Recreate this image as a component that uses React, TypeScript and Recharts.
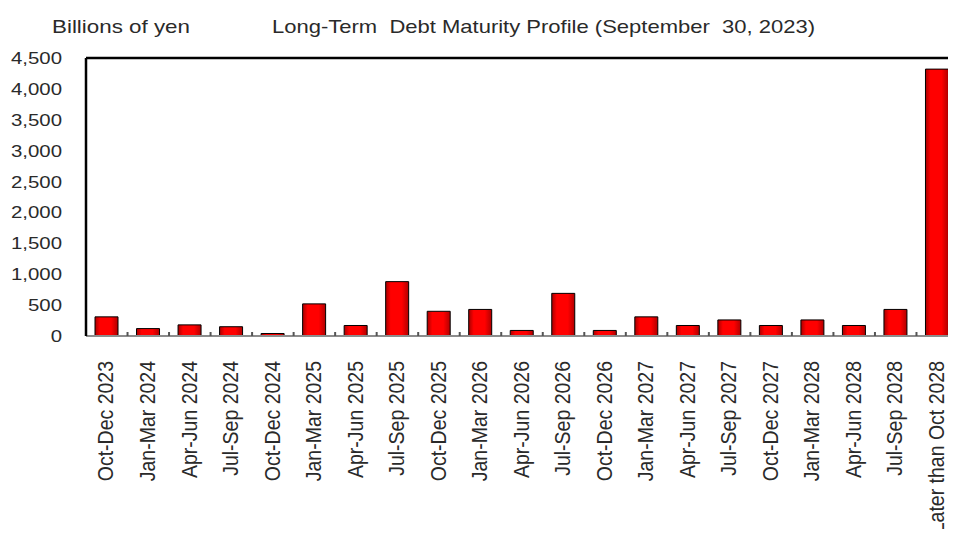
import React from "react";
import { BarChart, Bar, XAxis, YAxis, ReferenceLine } from "recharts";

const categories = [
  "Oct-Dec 2023", "Jan-Mar 2024", "Apr-Jun 2024", "Jul-Sep 2024", "Oct-Dec 2024",
  "Jan-Mar 2025", "Apr-Jun 2025", "Jul-Sep 2025", "Oct-Dec 2025", "Jan-Mar 2026",
  "Apr-Jun 2026", "Jul-Sep 2026", "Oct-Dec 2026", "Jan-Mar 2027", "Apr-Jun 2027",
  "Jul-Sep 2027", "Oct-Dec 2027", "Jan-Mar 2028", "Apr-Jun 2028", "Jul-Sep 2028",
  "Later than Oct 2028",
];
const maturities = [
  310, 120, 180, 150, 40, 520, 170, 880, 400, 430, 90, 690, 90, 310, 170, 260, 170, 260, 170, 430, 4320,
];
const yTicks = [0, 500, 1000, 1500, 2000, 2500, 3000, 3500, 4000, 4500];
const boundaryTicks = [1, 2, 3, 4, 5, 6, 7, 8, 9, 10, 11, 12, 13, 14, 15, 16, 17, 18, 19, 20];

const data = categories.map((c, i) => ({ period: c, idx: i + 0.5, value: maturities[i] }));

const FONT = "'Liberation Sans', Arial, sans-serif";
const TEXT = "#2a2a2a";

const fmt = (v: number) => v.toLocaleString("en-US");

const YTick = (props: any) => {
  const { x, y, payload } = props;
  return (
    <g transform={`translate(${x},${y}) scale(1.2,1)`}>
      <text x={0} y={0} dy={6} textAnchor="end" fontFamily={FONT} fontSize={17} fill={TEXT}>
        {fmt(payload.value)}
      </text>
    </g>
  );
};

const XTick = (props: any) => {
  const { x, y, payload } = props;
  return (
    <g transform={`translate(${x},${y})`}>
      <text
        transform="rotate(-90) scale(1,1.12)"
        x={0}
        y={6}
        textAnchor="end"
        fontFamily={FONT}
        fontSize={19.5}
        fill={TEXT}
      >
        {payload.value}
      </text>
    </g>
  );
};

const Empty = () => <g />;

export default function App() {
  return (
    <div style={{ margin: -8, width: 956, height: 537, overflow: "hidden", position: "relative", background: "#fff" }}>
      <svg width={956} height={60} style={{ position: "absolute", left: 0, top: 0 }}>
        <text x={52} y={33} fontFamily={FONT} fontSize={18.5} fill={TEXT} textLength={138} lengthAdjust="spacingAndGlyphs">
          Billions of yen
        </text>
        <text
          x={272}
          y={33}
          fontFamily={FONT}
          fontSize={18.5}
          fill={TEXT}
          textLength={543}
          lengthAdjust="spacingAndGlyphs"
          style={{ whiteSpace: "pre" }}
        >
          {"Long-Term  Debt Maturity Profile (September  30, 2023)"}
        </text>
      </svg>
      <BarChart
        width={962}
        height={537}
        data={data}
        margin={{ top: 58, right: 4, bottom: 0, left: 0 }}
      >
        <defs>
          <linearGradient id="barGrad" x1="0" y1="0" x2="1" y2="0">
            <stop offset="0%" stopColor="#a80000" />
            <stop offset="22%" stopColor="#ff0000" />
            <stop offset="70%" stopColor="#ff0000" />
            <stop offset="100%" stopColor="#b00000" />
          </linearGradient>
        </defs>
        <XAxis
          dataKey="period"
          interval={0}
          height={201}
          tickLine={false}
          tickSize={0}
          tickMargin={25}
          axisLine={{ stroke: "#8c8c8c", strokeWidth: 2 }}
          tick={<XTick />}
        />
        <XAxis
          xAxisId="bounds"
          type="number"
          dataKey="idx"
          domain={[0, 21]}
          ticks={boundaryTicks}
          mirror
          axisLine={false}
          tickSize={4}
          tickLine={{ stroke: "#555", strokeWidth: 2 }}
          tick={<Empty />}
        />
        <YAxis
          domain={[0, 4500]}
          ticks={yTicks}
          width={86}
          tickLine={false}
          tickSize={0}
          tickMargin={24}
          axisLine={{ stroke: "#000", strokeWidth: 2.5 }}
          tick={<YTick />}
        />
        <YAxis
          yAxisId="inner"
          domain={[0, 4500]}
          ticks={yTicks.slice(1, -1)}
          mirror
          axisLine={false}
          tickSize={4}
          tickLine={{ stroke: "#666", strokeWidth: 1.5 }}
          tick={<Empty />}
        />
        <ReferenceLine y={4500} stroke="#000" strokeWidth={2.5} />
        <Bar
          dataKey="value"
          barSize={23}
          fill="url(#barGrad)"
          stroke="#000"
          strokeWidth={1}
          isAnimationActive={false}
        />
      </BarChart>
    </div>
  );
}
